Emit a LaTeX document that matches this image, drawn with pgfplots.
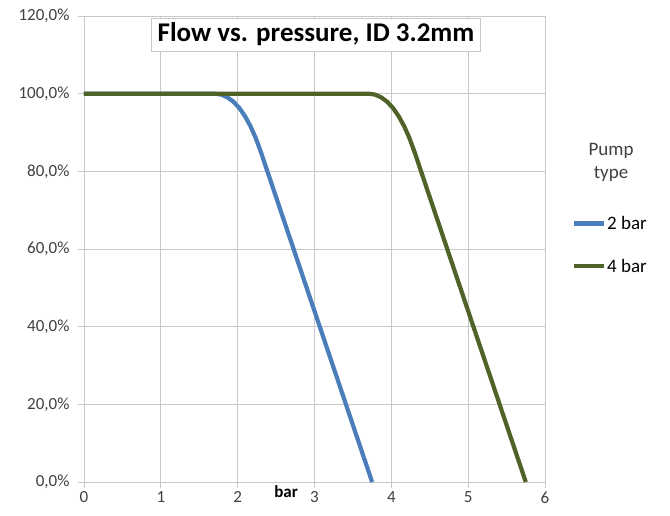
\documentclass[border=0pt]{standalone}
\usepackage{fontspec}
\setmainfont{Carlito}
\usepackage{pgfplots}
\pgfplotsset{compat=1.18}

\definecolor{pumpblue}{RGB}{74,126,187}
\definecolor{pumpgreen}{RGB}{79,98,40}
\definecolor{gridgray}{RGB}{200,200,200}

\begin{document}
\begin{tikzpicture}[x=1pt,y=1pt]
\begin{axis}[
  at={(84pt,33pt)}, anchor=south west,
  scale only axis,
  width=461pt, height=466pt,
  xmin=0, xmax=6, ymin=0, ymax=120,
  xtick={0,1,...,6}, ytick={0,20,...,120},
  xmajorgrids, ymajorgrids,
  grid style={gridgray, line width=0.8pt},
  axis line style={gridgray, line width=0.8pt},
  tick style={gridgray, line width=0.8pt},
  tick align=outside, major tick length=6pt,
  xtick pos=bottom, ytick pos=left,
  /pgf/number format/assume math mode=true,
  ticklabel style={font=\fontsize{17}{20}\selectfont, text=black!75},
  yticklabel style={xshift=-5pt},
  yticklabel={\pgfmathprintnumber[fixed,fixed zerofill,precision=1,use comma]{\tick}\%},
  xlabel={\textbf{bar}},
  xlabel style={at={(axis cs:2.63,0)}, anchor=north, inner sep=0pt, yshift=-3pt,
    font=\fontsize{17}{20}\selectfont},
  legend style={at={(1.058,0.573)}, anchor=north west, draw=none, fill=none,
    font=\fontsize{19}{22}\selectfont, row sep=26pt, inner sep=0pt,
    nodes={inner sep=1pt}},
  legend cell align=left,
  legend image code/.code={\draw[#1] (0pt,0pt) -- (30pt,0pt);},
]
\addplot[pumpblue, line width=4.2pt, line join=round] coordinates {
(0,100) (1.7,100) (1.785,99.77) (1.867,99.07) (1.946,97.9) (2.023,96.28)
(2.096,94.18) (2.167,91.62) (2.235,88.59) (2.3,85.1) (3.75,0)
};
\addlegendentry{2 bar}
\addplot[pumpgreen, line width=4.2pt, line join=round] coordinates {
(0,100) (3.7,100) (3.785,99.77) (3.867,99.07) (3.946,97.9) (4.023,96.28)
(4.096,94.18) (4.167,91.62) (4.235,88.59) (4.3,85.1) (5.75,0)
};
\addlegendentry{4 bar}
\node[draw=gridgray, line width=0.8pt, fill=white, inner xsep=6pt, inner ysep=5pt,
  font=\bfseries\fontsize{27}{31}\selectfont] at (axis cs:3.02,115.2) {Flow vs. pressure, ID 3.2mm};
\end{axis}
\node[align=center, font=\fontsize{19}{23}\selectfont, text=black!75] at (611pt,353pt) {Pump\\type};
\pgfresetboundingbox
\path[use as bounding box] (0,0) rectangle (670pt,515pt);
\end{tikzpicture}
\end{document}
